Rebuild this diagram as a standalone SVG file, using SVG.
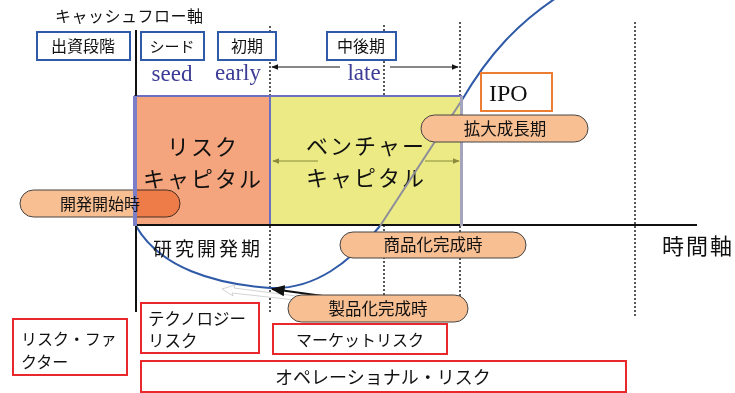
<svg xmlns="http://www.w3.org/2000/svg" width="735" height="393" viewBox="0 0 735 393">
<style>
text{font-family:"Noto Sans CJK JP","Noto Sans",sans-serif;fill:#111}
.bb{fill:#fff;stroke:#2f5aa8;stroke-width:2}
.rb{fill:#fff;stroke:#e8282c;stroke-width:2}
.pill{fill:#f8bf93;stroke:#444;stroke-width:1}
.dot{stroke:#222;stroke-width:1.5;stroke-dasharray:2,2;fill:none}
.en{font-family:"Liberation Serif",serif;fill:#3c3c96}
.c{text-anchor:middle}
</style>
<defs>
<marker id="ah" viewBox="0 0 10 10" refX="9" refY="5" markerWidth="7" markerHeight="7" orient="auto-start-reverse"><path d="M0,1 L10,5 L0,9 z" fill="#111"/></marker>
<marker id="ao" viewBox="0 0 10 10" refX="9" refY="5" markerWidth="6" markerHeight="6" orient="auto-start-reverse"><path d="M0,1 L10,5 L0,9 z" fill="#8a8a3a"/></marker>
</defs>
<rect width="735" height="393" fill="#fff"/>
<g id="grid">
<line class="dot" x1="270" y1="26" x2="270" y2="312"/>
<line class="dot" x1="384" y1="25" x2="384" y2="295"/>
<line class="dot" x1="460" y1="22" x2="460" y2="297"/>
<line class="dot" x1="635" y1="22" x2="635" y2="317"/>
</g>
<g id="capital">
<rect x="135" y="96" width="135" height="129" fill="#f5a57e" stroke="#6b6fbf" stroke-width="2"/>
<rect x="270" y="96" width="191" height="129" fill="#ebea85" stroke="#6b6fbf" stroke-width="2"/>
<text class="c" x="203" y="155" font-size="22" letter-spacing="2">リスク</text>
<text class="c" x="203" y="187" font-size="22" letter-spacing="2">キャピタル</text>
<text class="c" x="366" y="154" font-size="22" letter-spacing="2">ベンチャー</text>
<text class="c" x="366" y="186" font-size="22" letter-spacing="2">キャピタル</text>
<line x1="318" y1="161" x2="273" y2="161" stroke="#8a8a3a" stroke-width="1.2" marker-end="url(#ao)"/>
<line x1="425" y1="161" x2="459" y2="161" stroke="#8a8a3a" stroke-width="1.2" marker-end="url(#ao)"/>
</g>
<g id="connectors">
<line x1="136" y1="225" x2="697" y2="225" stroke="#111" stroke-width="2"/>
<path d="M136,226 C160,268 215,284 270,288 C315,290 350,262 380,226" fill="none" stroke="#2f5aa8" stroke-width="2"/>
<line x1="380" y1="226" x2="462" y2="100" stroke="#8e8e9a" stroke-width="2"/>
<path d="M462,100 C490,52 520,22 556,-2" fill="none" stroke="#2f5aa8" stroke-width="2"/>
<line x1="136" y1="30" x2="136" y2="312" stroke="#111" stroke-width="2"/>
<line x1="340" y1="67" x2="272" y2="67" stroke="#111" stroke-width="1" marker-end="url(#ah)"/>
<line x1="390" y1="67" x2="458" y2="67" stroke="#111" stroke-width="1" marker-end="url(#ah)"/>
<path d="M295,300 L232,293 L233,296 L222,289 L235,285 L234,288 L296,296 z" fill="#fff" stroke="#c8c8c8" stroke-width="0.8"/>
<line x1="330" y1="297" x2="272" y2="289" stroke="#111" stroke-width="2" marker-end="url(#ah)"/>
</g>
<g id="n-kaihatsu">
<rect x="20" y="190" width="160" height="27" rx="13.5" class="pill" style="mix-blend-mode:multiply"/>
</g>
<rect x="133" y="96" width="4" height="130" fill="#7b7fc8"/>
<rect x="460" y="96" width="3" height="130" fill="#a4a4bc"/>
<text class="c" x="100" y="209.5" font-size="16">開発開始時</text>
<g id="n-kakudai">
<rect x="421" y="115" width="167" height="27" rx="13.5" class="pill"/>
<text class="c" x="505" y="134.5" font-size="16.5">拡大成長期</text>
</g>
<g id="n-shohin">
<rect x="340" y="232" width="186" height="26" rx="13" class="pill"/>
<text class="c" x="433" y="251" font-size="16.5">商品化完成時</text>
</g>
<g id="n-seihin">
<rect x="288" y="295" width="180" height="27" rx="13.5" class="pill"/>
<text class="c" x="378" y="314.5" font-size="16.5">製品化完成時</text>
</g>
<g id="title"><text x="55" y="22" font-size="16" letter-spacing="0.5">キャッシュフロー軸</text></g>
<g id="n-shusshi"><rect class="bb" x="37" y="32" width="93" height="28"/><text class="c" x="83" y="52" font-size="16">出資段階</text></g>
<g id="n-seed"><rect class="bb" x="141" y="32" width="63" height="28"/><text class="c" x="172" y="52" font-size="15">シード</text>
<text class="en c" x="172" y="81" font-size="23">seed</text></g>
<g id="n-early"><rect class="bb" x="218" y="32" width="58" height="28"/><text class="c" x="247" y="52" font-size="16">初期</text>
<text class="en c" x="238" y="80" font-size="23">early</text></g>
<g id="n-late"><rect class="bb" x="327" y="32" width="69" height="28"/><text class="c" x="361" y="52" font-size="16">中後期</text>
<text class="en c" x="364" y="80" font-size="23">late</text></g>
<g id="n-ipo"><rect x="481" y="73" width="71" height="38" fill="#fff" stroke="#ed7d31" stroke-width="2"/>
<text x="489" y="101" font-size="24" style="font-family:'Liberation Serif',serif">IPO</text></g>
<g id="labels">
<text x="153" y="256" font-size="19" letter-spacing="3">研究開発期</text>
<text x="662" y="254" font-size="22" letter-spacing="2">時間軸</text>
</g>
<g id="n-factor"><rect class="rb" x="13" y="319" width="114" height="56"/>
<text x="21" y="345" font-size="16">リスク・ファ</text><text x="21" y="368" font-size="16">クター</text></g>
<g id="n-tech"><rect class="rb" x="141" y="303" width="118" height="50"/>
<text x="148" y="325" font-size="16.5">テクノロジー</text><text x="148" y="347" font-size="16.5">リスク</text></g>
<g id="n-market"><rect class="rb" x="273" y="324" width="174" height="30"/>
<text class="c" x="360" y="346" font-size="16">マーケットリスク</text></g>
<g id="n-oper"><rect class="rb" x="141" y="361" width="485" height="31"/>
<text x="275" y="384" font-size="18">オペレーショナル・リスク</text></g>
</svg>
